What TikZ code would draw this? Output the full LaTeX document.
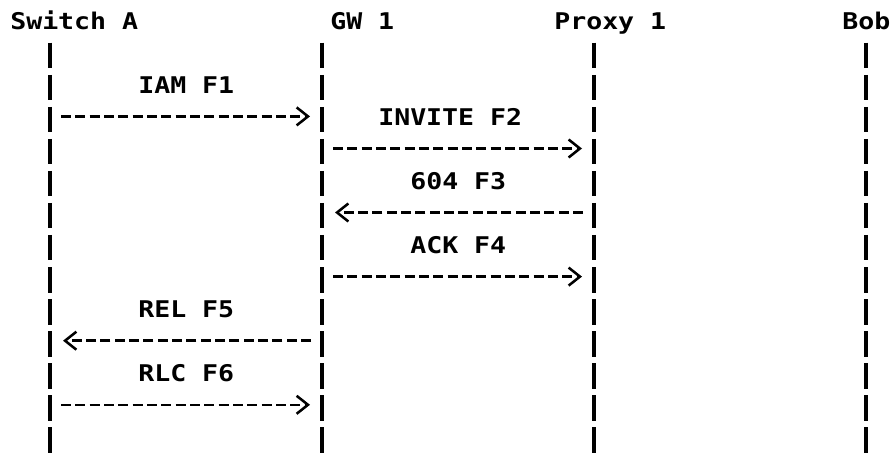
\documentclass[tikz,border=0pt]{standalone}
\usepackage{fontspec}
\setmonofont{DejaVu Sans Mono}
\usepackage{graphicx}
\usetikzlibrary{arrows.meta}
\newcommand\asc[1]{\scalebox{1.155}[1]{#1}}
\begin{document}
\begin{tikzpicture}[x=0.75pt,y=-0.75pt,
  txt/.style={anchor=base west, inner sep=0pt, font=\fontsize{17.25pt}{20pt}\selectfont\ttfamily\bfseries},
  life/.style={line width=3.2pt, dash pattern=on 19.13pt off 4.9pt},
  msg/.style={line width=1.9pt, dash pattern=on 7.5pt off 3.25pt,
    -{Straight Barb[length=8.5pt,width=13.5pt,line width=1.9pt]}},
  msgr/.style={msg, shorten <=8.25pt, shorten >=9pt},
  msgl/.style={msg, shorten <=8.25pt, shorten >=9.75pt}]
\useasboundingbox (0,0) rectangle (892,453);
% lifeline x positions
\coordinate (swx) at (50,0);
\coordinate (gwx) at (322,0);
\coordinate (pxx) at (594,0);
\coordinate (bobx) at (866,0);
\coordinate (top) at (0,42.75);
\coordinate (bot) at (0,453);
% message rows
\coordinate (r3) at (0,116.4);
\coordinate (r4) at (0,148.5);
\coordinate (r6) at (0,212.5);
\coordinate (r8) at (0,276.6);
\coordinate (r10) at (0,340.7);
\coordinate (r12) at (0,404.8);
% headers
\node[txt] (hsw) at (10,29.3) {\asc{Switch A}};
\node[txt] (hgw) at (330,29.3) {\asc{GW 1}};
\node[txt] (hpx) at (554,29.3) {\asc{Proxy 1}};
\node[txt] (hbob) at (842,29.3) {\asc{Bob}};
% lifelines
\draw[life] (swx|-top) -- (swx|-bot);
\draw[life] (gwx|-top) -- (gwx|-bot);
\draw[life] (pxx|-top) -- (pxx|-bot);
\draw[life] (bobx|-top) -- (bobx|-bot);
% labels
\node[txt] (l1) at (138,93.4) {\asc{IAM F1}};
\node[txt] (l2) at (378,125.4) {\asc{INVITE F2}};
\node[txt] (l3) at (410,189.5) {\asc{604 F3}};
\node[txt] (l4) at (410,253.6) {\asc{ACK F4}};
\node[txt] (l5) at (138,317.7) {\asc{REL F5}};
\node[txt] (l6) at (138,381.7) {\asc{RLC F6}};
% messages
\draw[msgr] (swx|-r3) -- (gwx|-r3);
\draw[msgr] (gwx|-r4) -- (pxx|-r4);
\draw[msgl] (pxx|-r6) -- (gwx|-r6);
\draw[msgr] (gwx|-r8) -- (pxx|-r8);
\draw[msgl] (gwx|-r10) -- (swx|-r10);
\draw[msgr] (swx|-r12) -- (gwx|-r12);
\end{tikzpicture}
\end{document}
